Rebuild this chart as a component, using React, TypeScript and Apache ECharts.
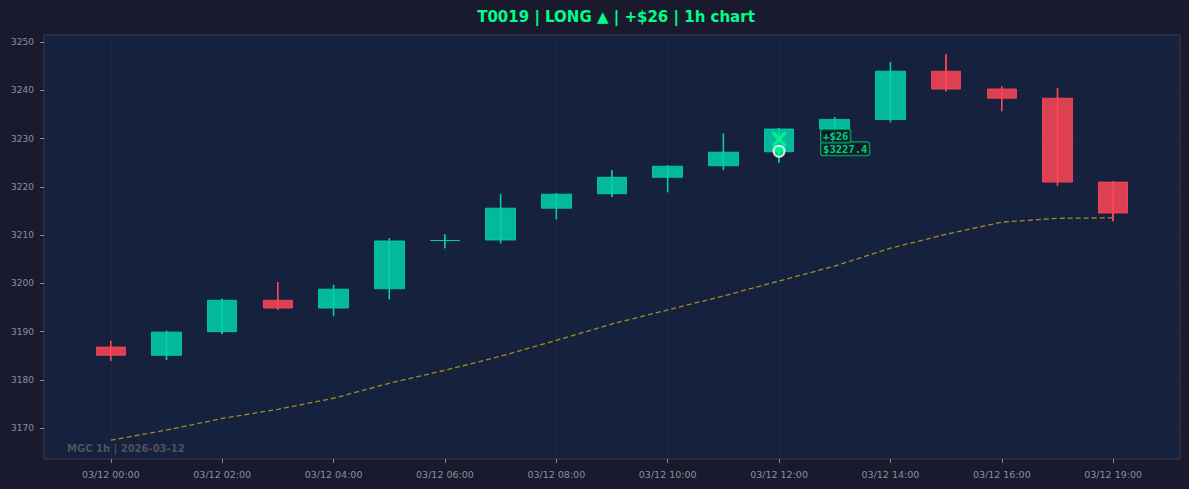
import React, { useEffect, useRef } from "react";
import * as echarts from "echarts";

const times = [
  "03/12 00:00", "03/12 01:00", "03/12 02:00", "03/12 03:00", "03/12 04:00",
  "03/12 05:00", "03/12 06:00", "03/12 07:00", "03/12 08:00", "03/12 09:00",
  "03/12 10:00", "03/12 11:00", "03/12 12:00", "03/12 13:00", "03/12 14:00",
  "03/12 15:00", "03/12 16:00", "03/12 18:00", "03/12 19:00",
];
const opens = [3186.8, 3185.1, 3190.0, 3196.5, 3194.9, 3198.9, 3208.9, 3209.0, 3215.6, 3218.6, 3222.0, 3224.4, 3227.3, 3232.0, 3234.0, 3244.0, 3240.3, 3238.4, 3221.0];
const closes = [3185.1, 3189.9, 3196.5, 3194.9, 3198.8, 3208.8, 3208.9, 3215.6, 3218.5, 3222.0, 3224.3, 3227.2, 3232.0, 3234.0, 3244.0, 3240.3, 3238.4, 3221.0, 3214.6];
const lows = [3183.9, 3184.1, 3189.5, 3194.5, 3193.2, 3196.7, 3207.3, 3208.3, 3213.3, 3217.9, 3218.9, 3223.5, 3225.0, 3230.8, 3233.4, 3239.8, 3235.7, 3220.2, 3212.9];
const highs = [3188.1, 3190.2, 3196.8, 3200.3, 3199.7, 3209.4, 3210.2, 3218.5, 3218.7, 3223.5, 3224.5, 3231.1, 3232.2, 3234.5, 3245.9, 3247.5, 3240.9, 3240.5, 3221.2];
const maValues = [3167.5, 3169.6, 3172.0, 3173.9, 3176.2, 3179.3, 3182.0, 3184.9, 3188.2, 3191.6, 3194.5, 3197.4, 3200.5, 3203.6, 3207.3, 3210.2, 3212.7, 3213.5, 3213.6];

const xTickIndices = [0, 2, 4, 6, 8, 10, 12, 14, 16, 18];
const yTicks = [3170, 3180, 3190, 3200, 3210, 3220, 3230, 3240, 3250];

const tradeId = "T0019";
const side = "LONG ▲";
const pnl = 26;
const markerIndex = 12;
const xMarkerPrice = 3229.9;
const exitPrice = 3227.4;
const watermark = "MGC 1h | 2026-03-12";

const GREEN = "#00d4aa";
const RED = "#ff4757";
const ACCENT = "#00ff88";

const X_PATH =
  "path://M0,1.5 L1.5,0 L5,3.5 L8.5,0 L10,1.5 L6.5,5 L10,8.5 L8.5,10 L5,6.5 L1.5,10 L0,8.5 L3.5,5 Z";

export default function App() {
  const ref = useRef<HTMLDivElement>(null);

  useEffect(() => {
    document.body.style.margin = "0";
    document.body.style.background = "#1a1a2e";
    if (!ref.current) return;
    const chart = echarts.init(ref.current, undefined, { renderer: "svg" });

    const candleData = times.map((_, i) => [i, opens[i], closes[i], lows[i], highs[i]]);
    const maData = maValues.map((v, i) => [i, v]);

    const labelBase = {
      show: true,
      position: "right",
      distance: 42,
      color: ACCENT,
      fontFamily: "DejaVu Sans Mono",
      fontWeight: "bold",
      fontSize: 10.5,
      backgroundColor: "rgba(13,27,42,0.92)",
      borderColor: "#00cc6a",
      borderWidth: 1,
      borderRadius: 2,
      padding: [1, 2],
    };

    const option: any = {
      animation: false,
      backgroundColor: "#1a1a2e",
      title: {
        text: `${tradeId} | ${side} | +$${pnl} | 1h chart`,
        left: 611,
        top: 4,
        textAlign: "center",
        textStyle: {
          color: ACCENT,
          fontSize: 15,
          fontWeight: "bold",
          fontFamily: "DejaVu Sans",
        },
      },
      grid: {
        left: 44,
        right: 9,
        top: 35,
        bottom: 30,
        show: true,
        backgroundColor: "#16213e",
        borderColor: "#3a3d4a",
        borderWidth: 1,
        outerBoundsMode: "none",
      },
      graphic: [
        {
          type: "text",
          left: 67,
          top: 443,
          z: 10,
          style: {
            text: watermark,
            fill: "#50535e",
            fontSize: 10,
            fontWeight: "bold",
            fontFamily: "DejaVu Sans",
          },
        },
      ],
      xAxis: {
        type: "value",
        min: -1.2,
        max: 19.2,
        axisLine: { show: false, onZero: false },
        axisTick: {
          show: true,
          customValues: xTickIndices,
          length: 4,
          lineStyle: { color: "#8a8a96" },
        },
        axisLabel: {
          customValues: xTickIndices,
          formatter: (v: number) => times[Math.round(v)] ?? "",
          color: "#8e8e9a",
          fontSize: 9.5,
          fontFamily: "DejaVu Sans",
          margin: 10,
        },
        splitLine: { show: true, lineStyle: { color: "rgba(255,255,255,0.022)" } },
      },
      yAxis: {
        type: "value",
        min: 3163.6,
        max: 3251.5,
        axisLine: { show: false, onZero: false },
        axisTick: {
          show: true,
          customValues: yTicks,
          length: 4,
          lineStyle: { color: "#8a8a96" },
        },
        axisLabel: {
          customValues: yTicks,
          formatter: (v: number) => String(v),
          color: "#8e8e9a",
          fontSize: 9,
          fontFamily: "DejaVu Sans",
          margin: 10,
        },
        splitLine: { show: true, lineStyle: { color: "rgba(255,255,255,0.022)" } },
      },
      series: [
        {
          type: "line",
          data: maData,
          showSymbol: false,
          symbol: "none",
          lineStyle: { color: "#ffd700", opacity: 0.6, width: 1.3, type: [5, 3] },
          z: 1,
        },
        {
          type: "candlestick",
          data: candleData,
          barWidth: 30,
          itemStyle: {
            color: GREEN,
            color0: RED,
            borderColor: GREEN,
            borderColor0: RED,
            borderWidth: 1,
            opacity: 0.85,
          },
          z: 2,
        },
        {
          type: "custom",
          data: candleData,
          z: 3,
          renderItem: (_params: any, api: any) => {
            const idx = api.value(0);
            const open = api.value(1);
            const close = api.value(2);
            const top = api.coord([idx, api.value(4)]);
            const bottom = api.coord([idx, api.value(3)]);
            const up = close >= open;
            return {
              type: "rect",
              shape: {
                x: top[0] - 0.8,
                y: top[1],
                width: 1.6,
                height: bottom[1] - top[1],
              },
              style: { fill: up ? GREEN : RED, opacity: 0.95 },
            };
          },
        },
        {
          type: "scatter",
          data: [[markerIndex, xMarkerPrice]],
          symbol: X_PATH,
          symbolSize: [15, 16],
          itemStyle: { color: ACCENT, opacity: 0.8 },
          z: 5,
        },
        {
          type: "scatter",
          data: [[markerIndex, exitPrice]],
          symbol: "circle",
          symbolSize: 11,
          itemStyle: { color: ACCENT, borderColor: "#ffffff", borderWidth: 2 },
          z: 6,
        },
        {
          type: "scatter",
          symbolSize: 0,
          z: 7,
          data: [
            {
              value: [markerIndex, exitPrice],
              label: { ...labelBase, formatter: `$${exitPrice}`, offset: [0, -2.5] },
            },
            {
              value: [markerIndex, exitPrice],
              label: { ...labelBase, formatter: `+$${pnl}`, offset: [0, -15.3] },
            },
          ],
        },
      ],
    };

    chart.setOption(option);
    return () => chart.dispose();
  }, []);

  return <div ref={ref} style={{ width: 1189, height: 489 }} />;
}
